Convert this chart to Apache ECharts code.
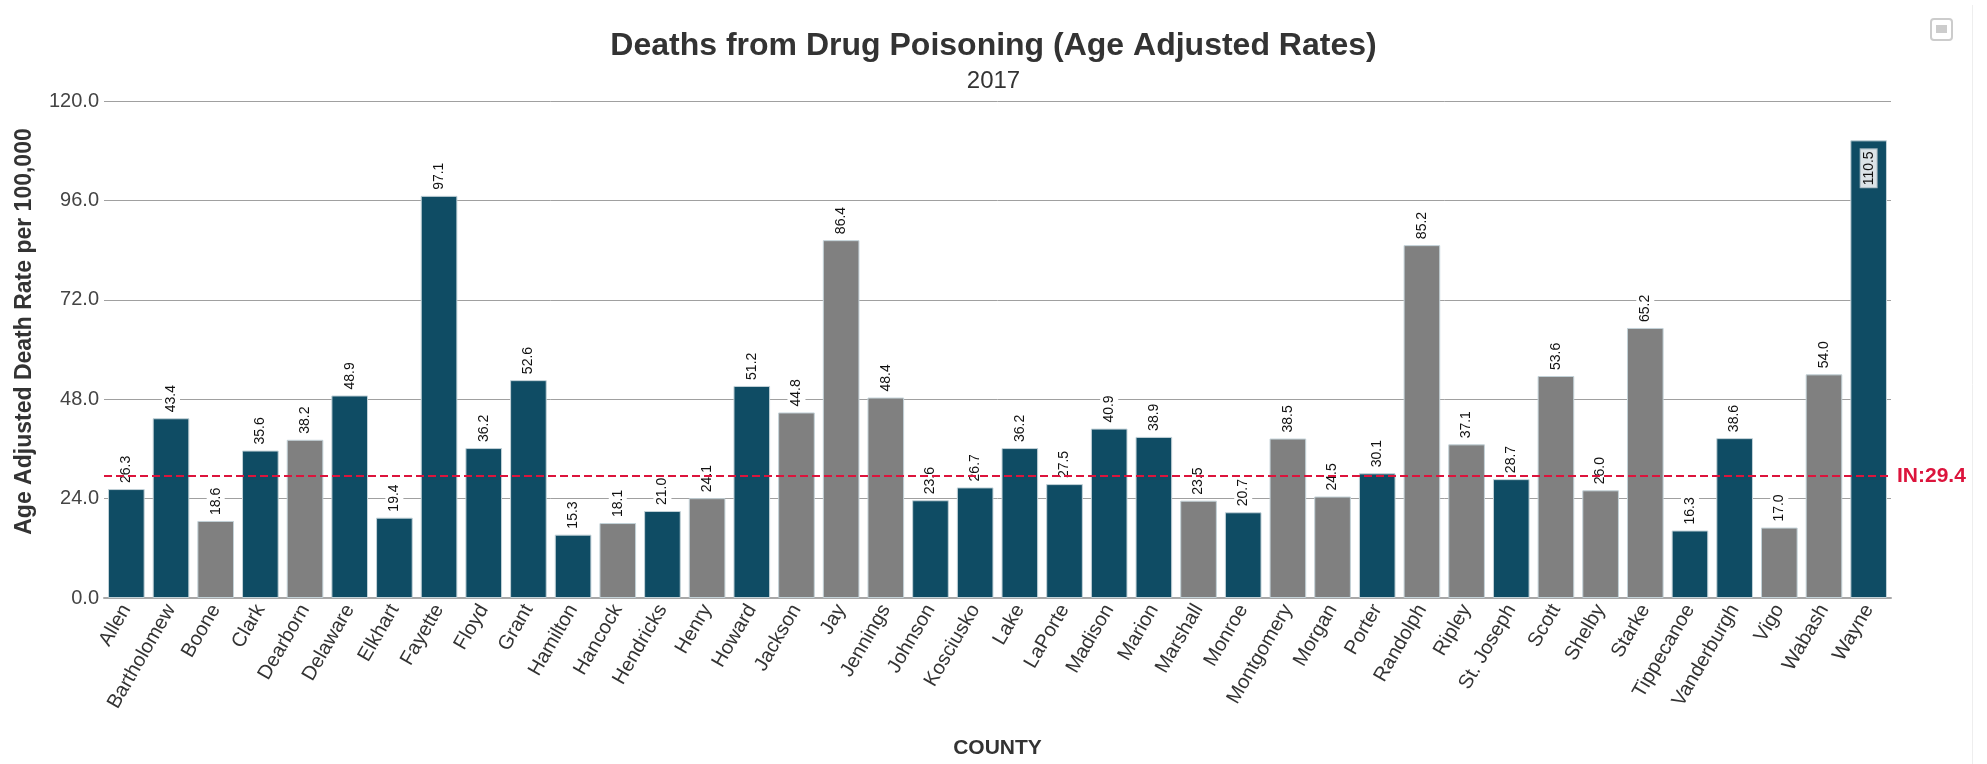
<!DOCTYPE html>
<html>
<head>
<meta charset="utf-8">
<script src="https://cdn.jsdelivr.net/npm/echarts@6/dist/echarts.min.js"></script>
<style>
  html, body { margin: 0; padding: 0; background: #ffffff; }
  #chart { width: 1987px; height: 764px; }
</style>
</head>
<body>
<div id="chart"></div>
<script>
// County list and age-adjusted drug poisoning death rates (per 100,000), 2017
const counties = [
  'Allen', 'Bartholomew', 'Boone', 'Clark', 'Dearborn', 'Delaware', 'Elkhart', 'Fayette',
  'Floyd', 'Grant', 'Hamilton', 'Hancock', 'Hendricks', 'Henry', 'Howard', 'Jackson',
  'Jay', 'Jennings', 'Johnson', 'Kosciusko', 'Lake', 'LaPorte', 'Madison', 'Marion',
  'Marshall', 'Monroe', 'Montgomery', 'Morgan', 'Porter', 'Randolph', 'Ripley', 'St. Joseph',
  'Scott', 'Shelby', 'Starke', 'Tippecanoe', 'Vanderburgh', 'Vigo', 'Wabash', 'Wayne'
];
const rates = [
  26.3, 43.4, 18.6, 35.6, 38.2, 48.9, 19.4, 97.1,
  36.2, 52.6, 15.3, 18.1, 21.0, 24.1, 51.2, 44.8,
  86.4, 48.4, 23.6, 26.7, 36.2, 27.5, 40.9, 38.9,
  23.5, 20.7, 38.5, 24.5, 30.1, 85.2, 37.1, 28.7,
  53.6, 26.0, 65.2, 16.3, 38.6, 17.0, 54.0, 110.5
];
// County group: 1 = first group (dark bars), 0 = second group (gray bars)
const countyGroup = [
  1, 1, 0, 1, 0, 1, 1, 1,
  1, 1, 1, 0, 1, 0, 1, 0,
  0, 0, 1, 1, 1, 1, 1, 1,
  0, 1, 0, 0, 1, 0, 0, 1,
  0, 0, 0, 1, 1, 0, 0, 1
];
const stateRate = 29.4;
const stateLabel = 'IN';
const yMin = 0, yMax = 120, yStep = 24;

const titleText = 'Deaths from Drug Poisoning (Age Adjusted Rates)';
const subtitleText = '2017';
const yAxisTitle = 'Age Adjusted Death Rate per 100,000';
const xAxisTitle = 'COUNTY';

const DARK = '#0f4c64';
const GRAY = '#808080';
const FONT = 'Arial, "Liberation Sans", Helvetica, sans-serif';

const chart = echarts.init(document.getElementById('chart'), null, { renderer: 'canvas' });

// Labels sit above the bar; when that would run past the axis top they move inside it.
const outsideLabel = {
  show: true,
  position: 'top',
  rotate: 90,
  align: 'left',
  verticalAlign: 'middle',
  distance: 5,
  fontFamily: FONT,
  fontSize: 14,
  color: '#111111',
  backgroundColor: '#ffffff',
  padding: [2, 1],
  formatter: p => p.value.toFixed(1)
};
const insideLabel = {
  show: true,
  position: 'insideTop',
  rotate: 90,
  align: 'right',
  verticalAlign: 'middle',
  distance: 9,
  fontFamily: FONT,
  fontSize: 14,
  color: '#111111',
  backgroundColor: '#dbe3e7',
  borderColor: '#9fb3bd',
  borderWidth: 1,
  padding: [1, 2],
  formatter: p => p.value.toFixed(1)
};

const barData = rates.map((v, i) => {
  const item = {
    value: v,
    itemStyle: { color: countyGroup[i] ? DARK : GRAY }
  };
  if (v + 10 > yMax) item.label = insideLabel;
  return item;
});

const option = {
  animation: false,
  backgroundColor: '#ffffff',
  textStyle: { fontFamily: FONT },
  title: [
    {
      text: titleText,
      left: 'center',
      top: 24,
      textStyle: { fontFamily: FONT, fontSize: 32, fontWeight: 'bold', color: '#333333', lineHeight: 34 }
    },
    {
      text: subtitleText,
      left: 'center',
      top: 63,
      textStyle: { fontFamily: FONT, fontSize: 24, fontWeight: 'normal', color: '#333333', lineHeight: 26 }
    }
  ],
  grid: {
    left: 104,
    right: 96,
    top: 101,
    bottom: 166,
    containLabel: false,
    outerBoundsMode: 'none'
  },
  xAxis: {
    type: 'category',
    data: counties,
    boundaryGap: true,
    name: xAxisTitle,
    nameLocation: 'middle',
    nameGap: 140,
    nameTextStyle: { fontFamily: FONT, fontSize: 21, fontWeight: 'bold', color: '#333333' },
    axisLine: { show: true, lineStyle: { color: '#a8a8a8', width: 2 } },
    axisTick: { show: false },
    axisLabel: {
      interval: 0,
      rotate: 60,
      margin: 8,
      fontFamily: FONT,
      fontSize: 20,
      color: '#333333'
    },
    splitLine: { show: false }
  },
  yAxis: {
    type: 'value',
    min: yMin,
    max: yMax,
    interval: yStep,
    name: yAxisTitle,
    nameLocation: 'middle',
    nameGap: 68,
    nameTextStyle: {
      fontFamily: FONT, fontSize: 23, fontWeight: 'bold', color: '#333333',
      padding: [0, 0, 0, 36]
    },
    axisLine: { show: false },
    axisTick: { show: false },
    axisLabel: {
      margin: 5,
      fontFamily: FONT,
      fontSize: 20,
      color: '#444444',
      formatter: v => v.toFixed(1)
    },
    splitLine: { show: true, lineStyle: { color: '#a0a0a0', width: 1 } }
  },
  series: [
    {
      type: 'bar',
      data: barData,
      barCategoryGap: '18%',
      itemStyle: { borderColor: '#c3d2d8', borderWidth: 1 },
      label: outsideLabel,
      markLine: {
        silent: true,
        symbol: ['none', 'none'],
        data: [{ yAxis: stateRate }],
        lineStyle: { color: '#dc143c', type: [8, 4], width: 2 },
        label: {
          show: true,
          position: 'end',
          distance: 6,
          formatter: stateLabel + ':' + stateRate.toFixed(1),
          fontFamily: FONT,
          fontSize: 21,
          fontWeight: 'bold',
          color: '#dc143c'
        },
        emphasis: { disabled: true }
      }
    }
  ],
  graphic: [
    {
      type: 'rect',
      shape: { x: 1931, y: 19, width: 21, height: 21, r: 3 },
      style: { fill: '#ffffff', stroke: '#cccccc', lineWidth: 2 }
    },
    {
      type: 'rect',
      shape: { x: 1936, y: 25, width: 11, height: 8 },
      style: { fill: '#cccccc' }
    },
    {
      type: 'line',
      shape: { x1: 1972.5, y1: 5, x2: 1972.5, y2: 764 },
      style: { stroke: '#eeeeee', lineWidth: 1 }
    }
  ]
};

chart.setOption(option);
</script>
</body>
</html>
